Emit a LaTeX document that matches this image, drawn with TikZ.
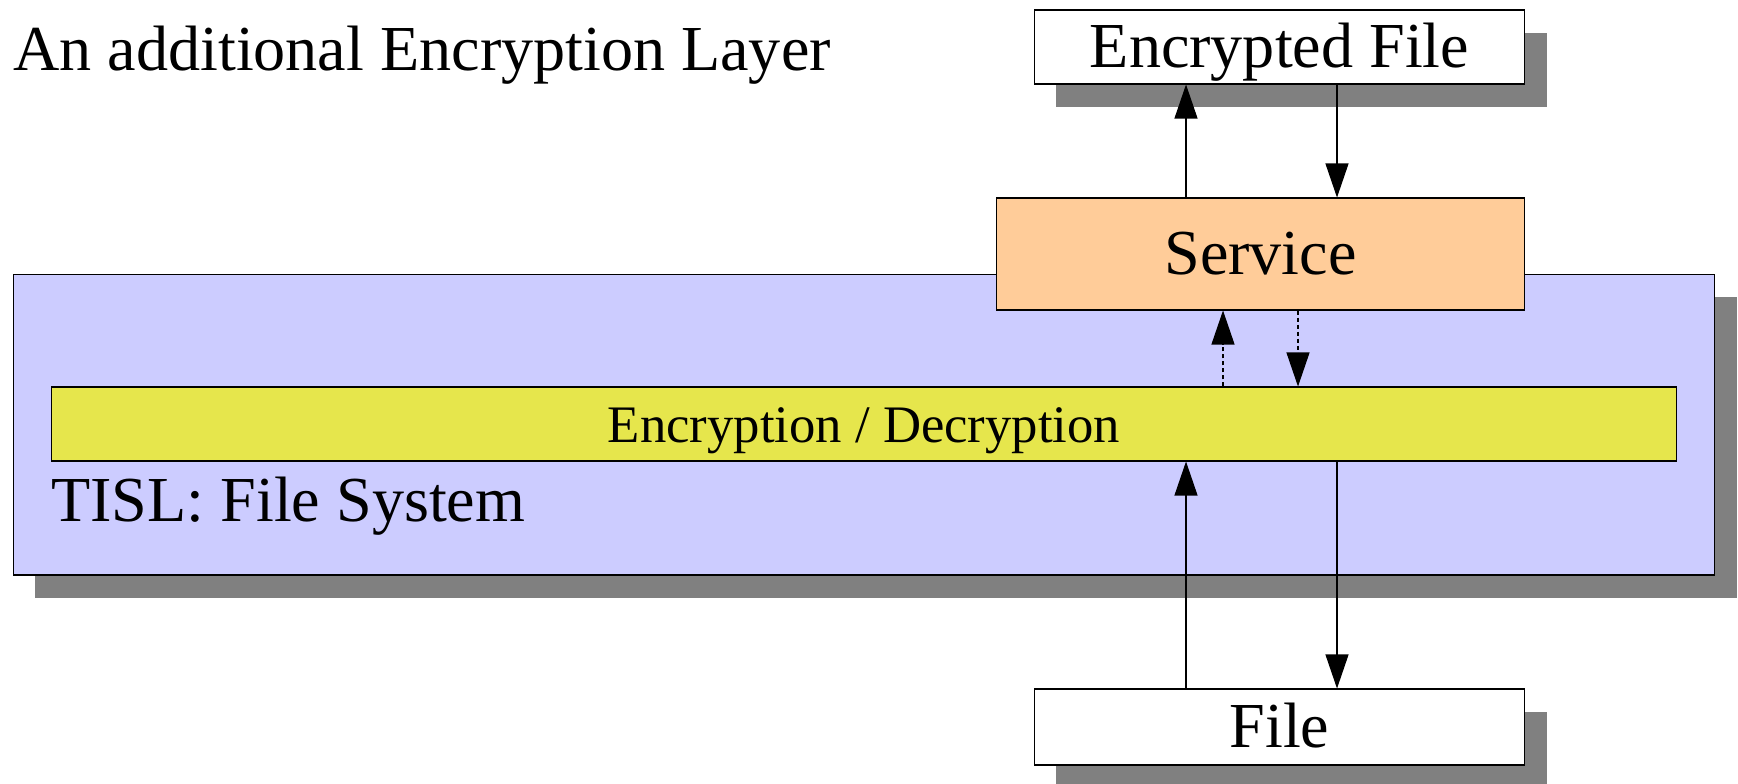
\documentclass[tikz,border=0pt]{standalone}
\usepackage{fontspec}
\setmainfont{Liberation Serif}
\usepackage{xcolor}
\usepackage{tikz}
\usetikzlibrary{shapes,arrows.meta,positioning,shadows}

\definecolor{layerblue}{HTML}{CCCCFF}
\definecolor{serviceorange}{HTML}{FFCC99}
\definecolor{cryptyellow}{HTML}{E6E64C}

\begin{document}
\begin{tikzpicture}[x=0.02cm, y=-0.02cm,
    box/.style={draw, rectangle, line width=0.6pt, inner sep=0pt, text height=25pt, text depth=1.5pt, font=\fontsize{36.5}{44}\selectfont},
    shadowed/.style={drop shadow={shadow xshift=0.44cm, shadow yshift=-0.46cm, opacity=1, fill=black!50}},
    arr/.style={-{Triangle[length=6.8mm, width=4.6mm]}, line width=0.6pt},
    dots/.style={dash pattern=on 2.3pt off 1.7pt},
    bigtext/.style={inner sep=0pt, anchor=base west, font=\fontsize{36.5}{44}\selectfont}]
    \path[use as bounding box] (0,0) rectangle (1738,784);

    \node[bigtext] (title) at (13,71) {An additional Encryption Layer};

    \node[box, shadowed, fill=layerblue, minimum width=34.04cm, minimum height=6.02cm] (tisl) at (864,424.5) {};
    \node[box, fill=cryptyellow, minimum width=32.52cm, minimum height=1.48cm, text height=21pt, text depth=0.4pt, font=\fontsize{30}{36}\selectfont] (crypt) at (864,424) {Encryption / Decryption};
    \node[bigtext] (tislname) at (51,521) {TISL: File System};

    \node[box, fill=serviceorange, minimum width=10.58cm, minimum height=2.24cm] (service) at (1260.5,254) {Service};
    \node[box, shadowed, fill=white, minimum width=9.82cm, minimum height=1.48cm] (encfile) at (1279.5,47) {Encrypted File};
    \node[box, shadowed, fill=white, minimum width=9.82cm, minimum height=1.52cm] (file) at (1279.5,727) {File};

    \coordinate (upx) at (1186,0);
    \coordinate (downx) at (1337,0);
    \coordinate (dupx) at (1223,0);
    \coordinate (ddownx) at (1298,0);

    \draw[arr] (service.north -| upx) -- (encfile.south -| upx);
    \draw[arr] (encfile.south -| downx) -- (service.north -| downx);
    \draw[arr, dots] (crypt.north -| dupx) -- (service.south -| dupx);
    \draw[arr, dots] (service.south -| ddownx) -- (crypt.north -| ddownx);
    \draw[arr] (file.north -| upx) -- (crypt.south -| upx);
    \draw[arr] (crypt.south -| downx) -- (file.north -| downx);
\end{tikzpicture}
\end{document}
